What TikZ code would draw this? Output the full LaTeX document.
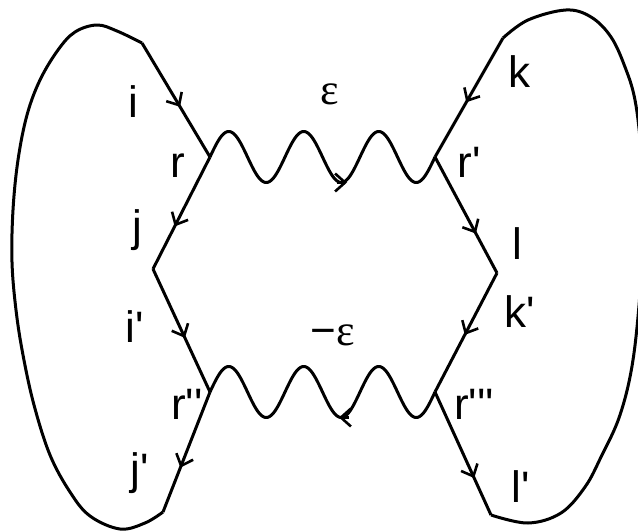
\documentclass[tikz,border=0pt]{standalone}
\usepackage{fontspec}
\newfontfamily\lab{Liberation Sans}[Ligatures=TeXOff]
\newfontfamily\grk{Liberation Serif}
\usetikzlibrary{arrows.meta,decorations.markings}
\begin{document}
\begin{tikzpicture}[x=1pt,y=-1pt,line width=3pt,line join=round,
  lbl/.style={font={\lab\fontsize{44}{48}\selectfont},anchor=base,inner sep=0pt},
  tip/.style={-{Straight Barb[length=10pt,width=18pt,line width=2.6pt]}},
  fermion/.style={postaction={decorate},decoration={markings,
     mark=at position #1 with {\arrow{Straight Barb[length=10pt,width=18pt,line width=2.6pt]}}}},
  photon/.style={smooth,samples=181,domain=0:225,variable=\t}]
\useasboundingbox (0,0) rectangle (638,532);
% vertices
\coordinate (r) at (210,157);
\coordinate (rp) at (435,157);
\coordinate (j) at (153,269);
\coordinate (l) at (497,273);
\coordinate (rpp) at (210,392);
\coordinate (rppp) at (435,392);
% loop corners
\coordinate (A) at (142,43);
\coordinate (B) at (163,512);
\coordinate (C) at (503,38);
\coordinate (D) at (491,515);
% photon arrows
\coordinate (ta1) at (337,182.5);
\coordinate (ta2) at (347,182.5);
\coordinate (ba1) at (349,417.5);
\coordinate (ba2) at (339,417.5);
% fermion lines
\draw[fermion=0.56] (A) -- (r);
\draw[fermion=0.62] (r) -- (j);
\draw[fermion=0.56] (j) -- (rpp);
\draw[fermion=0.63] (rpp) -- (B);
\draw[fermion=0.54] (C) -- (rp);
\draw[fermion=0.66] (rp) -- (l);
\draw[fermion=0.52] (l) -- (rppp);
\draw[fermion=0.70] (rppp) -- (D);
% loops
\draw plot[smooth,tension=0.6] coordinates {(A) (117,31) (97,25) (75,32) (58,50) (40,80) (27,115) (18,160) (13,210) (12,262) (16,310) (23,355) (34,405) (50,455) (70,492) (90,516) (120,529) (145,523) (B)};
\draw plot[smooth,tension=0.6] coordinates {(C) (528,20) (566,10) (591,17) (611,37) (625,67) (635,100) (641,150) (644,210) (641,280) (633,360) (620,415) (601,457) (585,487) (561,513) (528,523) (D)};
% photons (r to rp, rpp to rppp: three periods each)
\draw[shift={(r)}] plot[photon] (\t,{-25.5*sin(\t*4.8)});
\draw[shift={(rpp)}] plot[photon] (\t,{-25.5*sin(\t*4.8)});
\draw[tip] (ta1) -- (ta2);
\draw[tip] (ba1) -- (ba2);
% labels
\node[lbl] (li) at (133,118) {i};
\node[lbl] (lr) at (178,178) {r};
\node[lbl] (lj) at (137,242) {j};
\node[lbl] (lip) at (135,342) {i'};
\node[lbl] (lrpp) at (187,419) {r''};
\node[lbl] (ljp) at (140,484) {j'};
\node[lbl] (lk) at (519,88) {k};
\node[lbl] (lrp) at (469,178) {r'};
\node[lbl] (ll) at (517,260) {l};
\node[lbl] (lkp) at (520,327) {k'};
\node[lbl] (lrppp) at (474,419) {r'''};
\node[lbl] (llp) at (521,502) {l'};
\node[lbl,font={\grk\fontsize{44}{48}\selectfont}] (eps) at (330,105) {ε};
\node[lbl] (meps) at (333,345) {−{\grk ε}};
\end{tikzpicture}
\end{document}
